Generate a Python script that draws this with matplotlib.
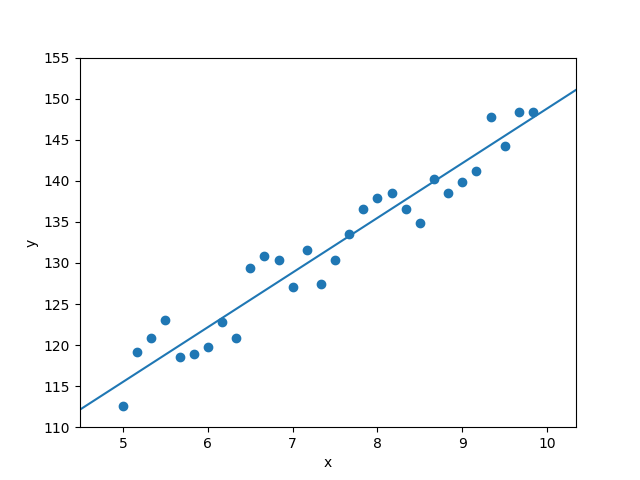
import numpy as np
import matplotlib
matplotlib.use("Agg")
import matplotlib.pyplot as plt

x = [5.0, 5.1667, 5.3333, 5.5, 5.6667, 5.8333, 6.0, 6.1667, 6.3333, 6.5,
     6.6667, 6.8333, 7.0, 7.1667, 7.3333, 7.5, 7.6667, 7.8333, 8.0, 8.1667,
     8.3333, 8.5, 8.6667, 8.8333, 9.0, 9.1667, 9.3333, 9.5, 9.6667, 9.8333]
y = [112.56, 119.1, 120.8, 123.1, 118.5, 118.9, 119.8, 122.8, 120.9, 129.4,
     130.8, 130.3, 127.1, 131.55, 127.4, 130.3, 133.5, 136.6, 137.9, 138.5,
     136.6, 134.9, 140.2, 138.5, 139.9, 141.2, 147.8, 144.2, 148.4, 148.4]
# fitted regression line (as shown in the chart)
line_slope = 6.656
line_intercept = 82.24

fig, ax = plt.subplots(figsize=(6.4, 4.8), dpi=100)
ax.scatter(x, y)
xs = np.array(ax.get_xlim())
line, = ax.plot(xs, line_slope * xs + line_intercept)
xlim = ax.get_xlim()
ax.set_xlim(xlim)
xf = np.array([xlim[0] - 1, xlim[1] + 1])
line.set_data(xf, line_slope * xf + line_intercept)
ax.set_ylim(110, 155)
ax.set_xlabel("x")
ax.set_ylabel("y")
fig.savefig("out.png")
